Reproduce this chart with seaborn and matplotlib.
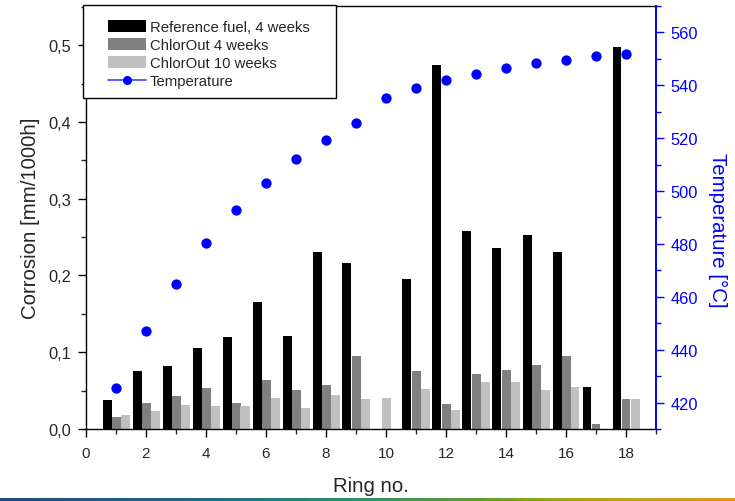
import numpy as np
import pandas as pd
import matplotlib
matplotlib.use("Agg")
import matplotlib.pyplot as plt
import seaborn as sns
from matplotlib.patches import Patch, Rectangle
from matplotlib.lines import Line2D
from matplotlib.ticker import MultipleLocator, FuncFormatter
from matplotlib.colors import LinearSegmentedColormap

# ---------------- data ----------------
rings = np.arange(1, 19)
ref_fuel_4w = [0.038, 0.076, 0.082, 0.105, 0.120, 0.165, 0.121, 0.230, 0.216, np.nan,
               0.195, 0.474, 0.258, 0.236, 0.253, 0.231, 0.055, 0.497]
chlorout_4w = [0.016, 0.034, 0.043, 0.054, 0.034, 0.064, 0.051, 0.057, 0.095, np.nan,
               0.076, 0.032, 0.072, 0.077, 0.083, 0.095, 0.0065, 0.039]
chlorout_10w = [0.018, 0.024, 0.031, 0.030, 0.030, 0.041, 0.027, 0.044, 0.039, 0.040,
                0.052, 0.025, 0.061, 0.061, 0.051, 0.055, np.nan, 0.039]
temperature = [425.5, 447.0, 465.0, 480.2, 492.7, 503.2, 512.0, 519.5, 525.7, 535.1,
               538.9, 541.9, 544.4, 546.6, 548.3, 549.7, 551.0, 552.0]

series_names = ["Reference fuel, 4 weeks", "ChlorOut 4 weeks", "ChlorOut 10 weeks"]
temp_name = "Temperature"
x_label = "Ring no."
y_label = "Corrosion [mm/1000h]"
y2_label = "Temperature [°C]"

# ---------------- style ----------------
sns.set_style("ticks")
plt.rcParams["font.family"] = ["Liberation Sans", "DejaVu Sans"]

W, H = 735, 502
fig = plt.figure(figsize=(W / 100, H / 100), dpi=100)
ax = fig.add_axes([86 / W, 1 - 430 / H, (656 - 86) / W, (430 - 7) / H])

bar_colors = ["#000000", "#808080", "#c0c0c0"]
bar_w = 0.3
vals_list = [np.array(ref_fuel_4w, float), np.array(chlorout_4w, float),
             np.array(chlorout_10w, float)]
offsets = [np.full(len(rings), -0.3), np.zeros(len(rings)),
           np.where(np.isnan(vals_list[1]), 0.0, 0.3)]

for vals, off, col in zip(vals_list, offsets, bar_colors):
    m = ~np.isnan(vals)
    pos = rings[m] + off[m]
    df = pd.DataFrame({"x": pos, "y": vals[m]})
    step = np.diff(np.sort(pos)).min()
    sns.barplot(data=df, x="x", y="y", native_scale=True, width=bar_w / step,
                color=col, saturation=1, errorbar=None, linewidth=0,
                edgecolor=col, ax=ax)

ax.set_xlim(0, 19)
ax.set_ylim(0, 0.551)
ax.xaxis.set_major_locator(MultipleLocator(2))
ax.xaxis.set_minor_locator(MultipleLocator(1))
ax.yaxis.set_major_locator(MultipleLocator(0.1))
ax.yaxis.set_minor_locator(MultipleLocator(0.05))
ax.yaxis.set_major_formatter(FuncFormatter(lambda v, p: f"{v:.1f}".replace(".", ",")))
ax.xaxis.set_major_formatter(FuncFormatter(lambda v, p: f"{v:.0f}"))
ax.set_xlabel(x_label, fontsize=14.7, labelpad=12)
ax.set_ylabel(y_label, fontsize=14.7, labelpad=6)
ax.tick_params(axis="both", which="major", direction="out", length=6, width=1,
               labelsize=11, pad=4.5, color="black")
ax.tick_params(axis="x", which="major", pad=6)
ax.tick_params(axis="y", which="major", labelsize=11.8)
ax.tick_params(axis="both", which="minor", direction="out", length=3.5, width=1)
ax.tick_params(axis="x", top=False)
for s in ax.spines.values():
    s.set_linewidth(1.0)
    s.set_color("black")
ax.spines["right"].set_visible(False)

# ---------------- temperature ----------------
ax2 = ax.twinx()
sns.scatterplot(x=rings, y=temperature, color="#0000ff", s=55, linewidth=0,
                ax=ax2, zorder=5)
ax2.set_ylim(410, 570)
ax2.yaxis.set_major_locator(MultipleLocator(20))
ax2.yaxis.set_minor_locator(MultipleLocator(10))
ax2.set_ylabel(y2_label, fontsize=14.7, color="#0000ff", rotation=-90, labelpad=21)
ax2.yaxis.label.set_y(0.472)
ax2.tick_params(axis="y", which="major", direction="out", length=6, width=1,
                labelsize=11.8, pad=4.5, colors="#0000ff")
ax2.tick_params(axis="y", which="minor", direction="out", length=3.5, width=1,
                colors="#0000ff")
for k in ["left", "top", "bottom"]:
    ax2.spines[k].set_visible(False)
ax2.spines["right"].set_color("#0000ff")
ax2.spines["right"].set_linewidth(1.4)
ax2.set_xlim(0, 19)

# ---------------- legend ----------------
rect = Rectangle((83 / W, 1 - 99 / H), (336 - 83) / W, (99 - 6) / H,
                 transform=fig.transFigure, facecolor="white", edgecolor="black",
                 linewidth=1.0, zorder=4)
fig.add_artist(rect)
handles = [Patch(facecolor=c, edgecolor="none") for c in bar_colors]
handles.append(Line2D([], [], color="#4040ff", lw=1.2, marker="o", markersize=5.5,
                      markerfacecolor="#0000ff", markeredgecolor="#0000ff"))
fig.legend(handles, series_names + [temp_name], loc="upper left",
           bbox_to_anchor=(108 / W, 1 - 21 / H), bbox_transform=fig.transFigure,
           frameon=False, fontsize=10.7, handlelength=2.55, handleheight=0.9,
           handletextpad=0.27, labelspacing=0.25, borderpad=0, borderaxespad=0)

# ---------------- bottom gradient strip ----------------
gax = fig.add_axes([0, 0, 1, 3.5 / H])
cmap = LinearSegmentedColormap.from_list(
    "strip", [(0, "#1a4a8c"), (0.3, "#1a6f8f"), (0.5, "#2b9565"),
              (0.65, "#5aa02c"), (0.8, "#b4a51c"), (1.0, "#e8961a")])
gax.imshow(np.linspace(0, 1, 512)[None, :], aspect="auto", cmap=cmap)
gax.set_axis_off()

fig.savefig("out.png", dpi=100)
